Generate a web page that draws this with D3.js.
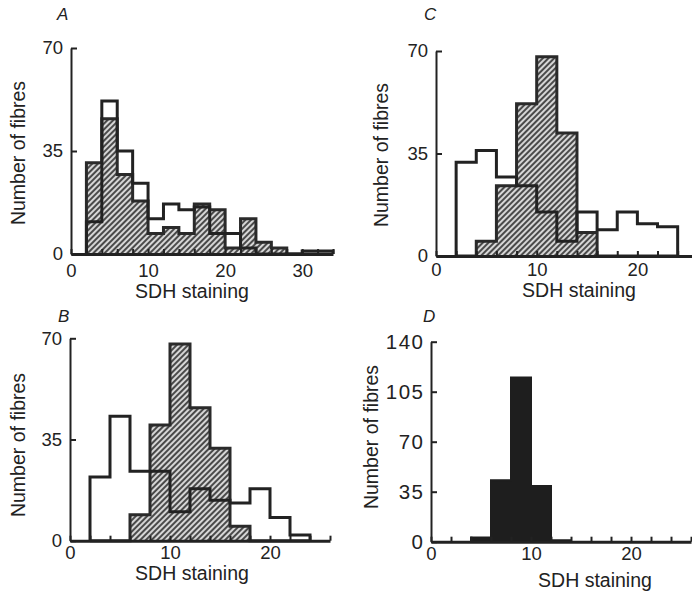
<!DOCTYPE html>
<html>
<head>
<meta charset="utf-8">
<script src="https://cdn.jsdelivr.net/npm/d3@7"></script>
<style>
body { margin: 0; background: #fff; }
text { font-family: "Liberation Sans", Arial, sans-serif; fill: #222; }
</style>
</head>
<body>
<div id="chart"></div>
<script>
// bin starts (SDH staining), every bin is 2 units wide
var binWidth = 2;

var binsA  = [2, 4, 6, 8, 10, 12, 14, 16, 18, 20, 22, 24, 26, 28, 30, 32];
var openA  = [11, 52, 35, 24, 12, 17, 15, 16, 7, 7, 2, 0, 0, 0, 1, 1];
var hatchA = [31, 46, 27, 18, 7, 9, 7, 17, 15, 2, 12, 4, 2, 0, 0, 0];

var binsB  = [2, 4, 6, 8, 10, 12, 14, 16, 18, 20, 22];
var openB  = [22, 43, 24, 24, 10, 18, 14, 13, 18, 8, 2];
var hatchB = [0, 0, 9, 40, 68, 46, 32, 5, 0, 0, 0];

var binsC  = [2, 4, 6, 8, 10, 12, 14, 16, 18, 20, 22];
var openC  = [32, 36, 27, 24, 15, 5, 15, 9, 15, 11, 10];
var hatchC = [0, 5, 24, 52, 68, 42, 8, 0, 0, 0, 0];

var binsD  = [4, 6, 8, 10, 12];
var solidD = [3, 43, 115, 39, 1];

var yTicks70  = [0, 35, 70];
var yTicks140 = [0, 35, 70, 105, 140];
var xLabelsA  = [0, 10, 20, 30];
var xLabels   = [0, 10, 20];

var W = 692, H = 591;

var svg = d3.select("#chart")
  .append("svg")
    .attr("width", W)
    .attr("height", H);

var defs = svg.append("defs");
var pat = defs.append("pattern")
    .attr("id", "hatch")
    .attr("patternUnits", "userSpaceOnUse")
    .attr("width", 4)
    .attr("height", 4)
    .attr("patternTransform", "rotate(45)");
pat.append("rect")
    .attr("width", 4).attr("height", 4)
    .attr("fill", "#d6d6d6");
pat.append("line")
    .attr("x1", 1).attr("y1", 0)
    .attr("x2", 1).attr("y2", 4)
    .attr("stroke", "#4a4a4a")
    .attr("stroke-width", 2);

// step outline of a histogram, in data units
var stepPoints = function(bins, vals) {
  var pts = [[bins[0], 0]];
  bins.forEach(function(b, i) {
    pts.push([b, vals[i]]);
    pts.push([b + binWidth, vals[i]]);
  });
  pts.push([bins[bins.length - 1] + binWidth, 0]);
  return pts;
};

var panels = [
  { letter: "A", x0: 71, x1: 333, xMax: 34, y0: 254, y1: 48, yMax: 70,
    yTicks: yTicks70, xLabels: xLabelsA, pad: 10, yFont: 18.5, ySpace: 0,
    bins: binsA, open: openA, hatch: hatchA,
    ylab: [18, 153], xlab: [192, 298], let: [57, 20] },
  { letter: "C", x0: 436, x1: 697.8, xMax: 26, y0: 256, y1: 51, yMax: 70,
    yTicks: yTicks70, xLabels: xLabels, pad: 7, yFont: 18.5, ySpace: 0,
    bins: binsC, open: openC, hatch: hatchC,
    ylab: [381, 155], xlab: [579, 297], let: [424, 20] },
  { letter: "B", x0: 70, x1: 330, xMax: 26, y0: 540.7, y1: 338.3, yMax: 70,
    yTicks: yTicks70, xLabels: xLabels, pad: 5, yFont: 18.5, ySpace: 0,
    bins: binsB, open: openB, hatch: hatchB,
    ylab: [18, 445], xlab: [192, 580], let: [58, 322] },
  { letter: "D", x0: 431, x1: 691, xMax: 26, y0: 541.7, y1: 341.7, yMax: 140,
    yTicks: yTicks140, xLabels: xLabels, pad: 5, yFont: 20.5, ySpace: 1.5,
    bins: binsD, solid: solidD,
    ylab: [371, 437], xlab: [595, 587], let: [423, 322] }
];

panels.forEach(function(p) {
  var x = d3.scaleLinear().domain([0, p.xMax]).range([p.x0, p.x1]);
  var y = d3.scaleLinear().domain([0, p.yMax]).range([p.y0, p.y1]);
  var g = svg.append("g");

  var line = d3.line()
    .x(function(d) { return x(d[0]); })
    .y(function(d) { return y(d[1]); });

  if (p.hatch) {
    g.append("path")
      .datum(stepPoints(p.bins, p.hatch))
      .attr("fill", "url(#hatch)")
      .attr("stroke", "#2a2a2a")
      .attr("stroke-width", 3)
      .attr("d", line);
  }
  if (p.solid) {
    g.append("path")
      .datum(stepPoints(p.bins, p.solid))
      .attr("fill", "#1e1e1e")
      .attr("stroke", "#1e1e1e")
      .attr("stroke-width", 2)
      .attr("d", line);
  }
  if (p.open) {
    g.append("path")
      .datum(stepPoints(p.bins, p.open))
      .attr("fill", "none")
      .attr("stroke", "#222")
      .attr("stroke-width", 3)
      .attr("d", line);
  }

  // x axis: inward ticks every 2 units, labels every 10
  var xa = g.append("g")
    .attr("transform", "translate(0," + p.y0 + ")")
    .call(d3.axisBottom(x)
      .tickValues(d3.range(0, p.xMax + 0.1, 2))
      .tickSize(-5)
      .tickSizeOuter(0)
      .tickPadding(p.pad)
      .tickFormat(function(d) { return p.xLabels.indexOf(d) >= 0 ? d : ""; }));
  xa.select(".domain").attr("stroke", "#222").attr("stroke-width", 3);
  xa.selectAll(".tick line").attr("stroke", "#222").attr("stroke-width", 2);
  xa.selectAll("text").attr("font-size", 18.5).attr("fill", "#222");

  // y axis
  var ya = g.append("g")
    .attr("transform", "translate(" + p.x0 + ",0)")
    .call(d3.axisLeft(y)
      .tickValues(p.yTicks)
      .tickSize(-6)
      .tickSizeOuter(0)
      .tickPadding(8 - p.ySpace));
  ya.select(".domain").attr("stroke", "#222").attr("stroke-width", 2);
  ya.selectAll(".tick line").attr("stroke", "#222").attr("stroke-width", 2);
  ya.selectAll("text")
    .attr("font-size", p.yFont)
    .attr("letter-spacing", p.ySpace)
    .attr("fill", "#222");

  g.append("text")
    .attr("transform", "translate(" + p.ylab[0] + "," + p.ylab[1] + ") rotate(-90)")
    .attr("dy", "0.35em")
    .attr("text-anchor", "middle")
    .attr("font-size", 19.5)
    .text("Number of fibres");

  g.append("text")
    .attr("x", p.xlab[0])
    .attr("y", p.xlab[1])
    .attr("text-anchor", "middle")
    .attr("font-size", 19.5)
    .text("SDH staining");

  g.append("text")
    .attr("x", p.let[0])
    .attr("y", p.let[1])
    .attr("font-size", 17)
    .attr("font-style", "italic")
    .text(p.letter);
});
</script>
</body>
</html>
